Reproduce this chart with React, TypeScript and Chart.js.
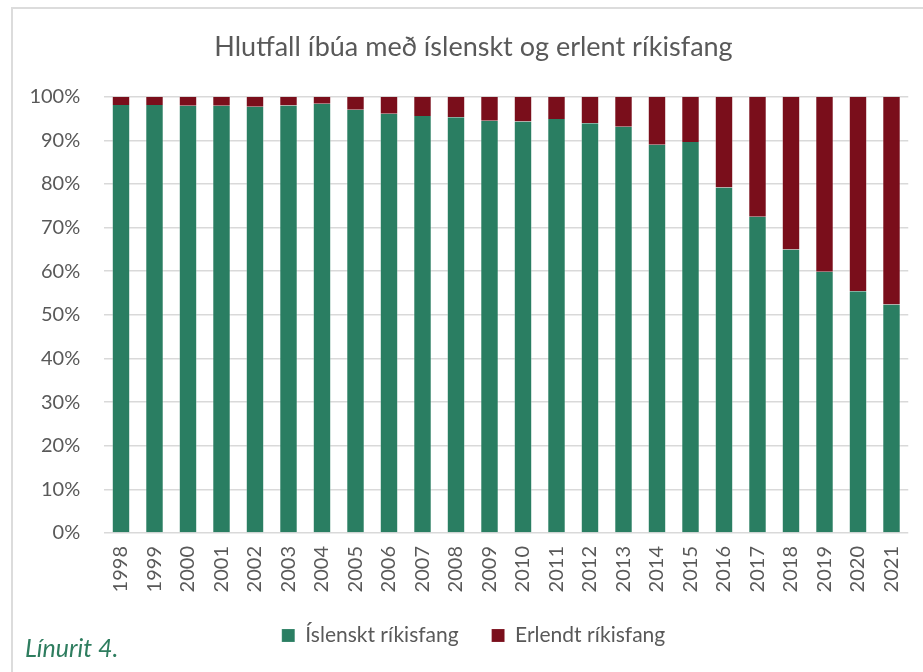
import React, { useEffect, useRef } from "react";
import { Chart, registerables } from "chart.js";

Chart.register(...registerables);

const years = ["1998","1999","2000","2001","2002","2003","2004","2005","2006","2007","2008","2009","2010","2011","2012","2013","2014","2015","2016","2017","2018","2019","2020","2021"];
const islenskt = [98.1, 98.1, 97.9, 97.9, 97.7, 98.0, 98.4, 97.0, 96.1, 95.6, 95.3, 94.5, 94.3, 94.9, 93.9, 93.1, 89.0, 89.6, 79.2, 72.5, 65.0, 59.9, 55.4, 52.4];
const erlent = [1.9, 1.9, 2.1, 2.1, 2.3, 2.0, 1.6, 3.0, 3.9, 4.4, 4.7, 5.5, 5.7, 5.1, 6.1, 6.9, 11.0, 10.4, 20.8, 27.5, 35.0, 40.1, 44.6, 47.6];
const seriesNames = ["Íslenskt ríkisfang", "Erlendt ríkisfang"];
const titleText = "Hlutfall íbúa með íslenskt og erlent ríkisfang";
const captionText = "Línurit 4.";

const GREEN = "#2A7E62";
const RED = "#7A0E1B";
const TEXT = "#595959";
const FONT = "Lato";

const yLabelRoom = {
  id: "yLabelRoom",
  afterLayout(chart: any) {
    const y = chart.scales.y;
    if (y) y.left = 16;
  },
};

export default function App() {
  const ref = useRef<HTMLCanvasElement | null>(null);
  useEffect(() => {
    if (!ref.current) return;
    const chart = new Chart(ref.current, {
      type: "bar",
      data: {
        labels: years,
        datasets: [
          { label: seriesNames[0], data: islenskt, backgroundColor: GREEN, borderColor: "rgba(255,255,255,0.3)", borderWidth: { left: 1, right: 1, top: 0, bottom: 0 } as any, barPercentage: 0.55, categoryPercentage: 1 },
          { label: seriesNames[1], data: erlent, backgroundColor: RED, borderColor: "rgba(255,255,255,0.3)", borderWidth: { left: 1, right: 1, top: 0, bottom: 0 } as any, barPercentage: 0.55, categoryPercentage: 1 },
        ],
      },
      plugins: [yLabelRoom],
      options: {
        animation: false,
        responsive: false,
        maintainAspectRatio: false,
        layout: { padding: { left: 38.75, right: 14.75, top: 0, bottom: 16 } },
        plugins: {
          tooltip: { enabled: false },
          title: {
            display: true,
            text: titleText,
            color: TEXT,
            font: { family: FONT, size: 27, weight: "normal" as any, lineHeight: 1.2 },
            padding: { top: 30.8, bottom: 33.5 },
          },
          legend: {
            display: true,
            position: "bottom",
            labels: {
              color: TEXT,
              font: { family: FONT, size: 21 },
              boxWidth: 13,
              boxHeight: 13,
              padding: 33,
            },
          },
        },
        scales: {
          x: {
            stacked: true,
            grid: { display: false, drawTicks: false },
            border: { display: false },
            ticks: {
              color: TEXT,
              font: { family: FONT, size: 20 },
              minRotation: 90,
              maxRotation: 90,
              padding: 13,
              autoSkip: false,
            },
            afterFit: (scale: any) => { scale.height = 59; scale.paddingLeft = 0; scale.paddingRight = 0; },
          },
          y: {
            stacked: true,
            min: 0,
            max: 100,
            grid: { color: "#d9d9d9", lineWidth: 1.5, drawTicks: false },
            border: { display: false },
            ticks: {
              stepSize: 10,
              color: TEXT,
              font: { family: FONT, size: 20 },
              padding: 24,
              callback: (v: any) => v + "%",
            },
            afterFit: (scale: any) => { scale.width = 65.5; scale.paddingTop = 0; scale.paddingBottom = 0; },
          },
        },
      },
    });
    return () => chart.destroy();
  }, []);

  return (
    <div style={{ position: "absolute", left: 0, top: 0, width: 923, height: 672, overflow: "hidden", background: "#fff" }}>
      <canvas ref={ref} width={923} height={672} style={{ position: "absolute", left: 0, top: 0, width: 923, height: 672 }} />
      <div style={{ position: "absolute", left: 11, top: 7, width: 960, height: 720, borderLeft: "2px solid #dcdcdc", borderTop: "2px solid #dcdcdc", pointerEvents: "none" }} />
      <div style={{ position: "absolute", left: 25, top: 632, fontFamily: FONT, fontStyle: "italic", fontSize: 25, color: "#2E7D5F", lineHeight: "30px", whiteSpace: "nowrap" }}>{captionText}</div>
    </div>
  );
}
